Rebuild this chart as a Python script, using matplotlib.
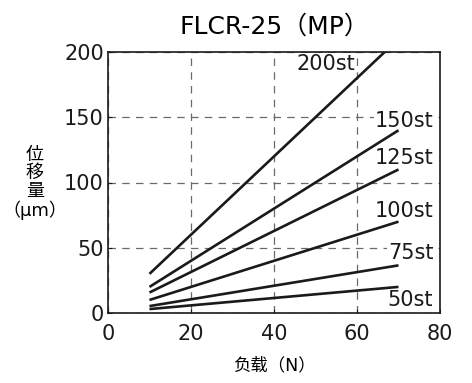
import numpy as np
import matplotlib.pyplot as plt

plt.rcParams['font.family'] = ['DejaVu Sans', 'Noto Sans CJK JP']

# datos
load = [10, 70]
strokes = ['200st', '150st', '125st', '100st', '75st', '50st']
disp_200 = [30, 210]
disp_150 = [20, 140]
disp_125 = [15.7, 110]
disp_100 = [10, 70]
disp_75 = [5.3, 36.5]
disp_50 = [3, 20]
series = [disp_200, disp_150, disp_125, disp_100, disp_75, disp_50]

# posicion de las etiquetas (x, y)
label_pos = [(59.5, 191), (78.4, 147), (78.4, 118.5), (78.4, 78), (78.4, 46), (78.4, 10)]

fig = plt.figure(figsize=(4.72, 3.83), dpi=100)
ax = fig.add_axes([108 / 472, 70 / 383, 332 / 472, 261 / 383])

for d in series:
    ax.plot(load, d, color='#1a1a1a', linewidth=1.9, solid_capstyle='butt', zorder=3)

for name, (lx, ly) in zip(strokes, label_pos):
    ax.text(lx, ly, name, ha='right', va='center', fontsize=15, color='#1a1a1a',
            bbox=dict(facecolor='white', edgecolor='none', pad=0.3), zorder=2)

ax.set_xlim(0, 80)
ax.set_ylim(0, 200)
ax.set_xticks([0, 20, 40, 60, 80])
ax.set_yticks([0, 50, 100, 150, 200])
ax.tick_params(direction='in', length=3, labelsize=15, colors='#1a1a1a')
ax.tick_params(axis='x', pad=8)
ax.tick_params(axis='y', pad=3)
ax.grid(True, linestyle=(0, (6, 5)), color='#6a6a6a', linewidth=0.9, zorder=1)
ax.set_axisbelow(True)
for s in ax.spines.values():
    s.set_linewidth(1.2)
    s.set_color('#1a1a1a')

ax.set_title('FLCR-25（MP）', fontsize=18, pad=13)
ax.set_xlabel('负载（N）', fontsize=12.5, labelpad=9)
fig.text(35 / 472, 1 - 183 / 383, '位\n移\n量\n（μm）', ha='center', va='center',
         fontsize=13, linespacing=1.0)

fig.savefig('out.png', dpi=100)
